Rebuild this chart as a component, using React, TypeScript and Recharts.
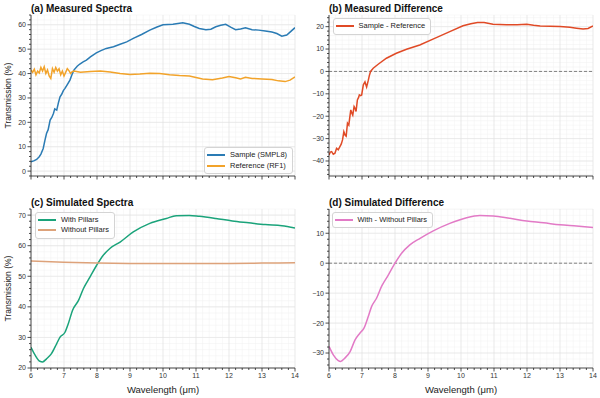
import React from "react"
import { LineChart, Line, XAxis, YAxis, CartesianGrid, ReferenceLine, Legend } from "recharts"

const FONT = '"Liberation Sans", Arial, Helvetica, sans-serif'

// wavelength axis (µm)
const xMajor = [6, 7, 8, 9, 10, 11, 12, 13, 14]

// (a) measured spectra
const sampleW = [6.0, 6.1, 6.17, 6.25, 6.3, 6.37, 6.42, 6.47, 6.52, 6.58, 6.63, 6.68, 6.72, 6.78, 6.83, 6.88, 6.93, 6.98, 7.03, 7.1, 7.18, 7.24, 7.3, 7.4, 7.48, 7.58, 7.68, 7.8, 7.98, 8.12, 8.28, 8.5, 8.7, 8.9, 9.1, 9.35, 9.6, 9.8, 10.0, 10.3, 10.6, 10.8, 10.95, 11.1, 11.3, 11.45, 11.6, 11.75, 11.9, 12.05, 12.2, 12.35, 12.5, 12.7, 12.9, 13.1, 13.3, 13.45, 13.6, 13.75, 13.85, 14.0]
const sampleT = [3.8, 4.3, 4.8, 5.9, 7.0, 9.3, 12.5, 15.4, 17.0, 20.9, 22.0, 23.6, 25.5, 25.0, 28.0, 30.5, 31.5, 33.0, 33.9, 35.5, 37.3, 39.5, 41.4, 43.0, 43.9, 44.8, 45.5, 46.8, 48.5, 49.4, 50.3, 51.0, 52.0, 53.0, 54.4, 56.0, 57.8, 59.0, 60.0, 60.2, 60.8, 60.2, 59.3, 58.5, 58.0, 58.2, 59.2, 59.8, 60.2, 59.0, 58.0, 58.3, 58.8, 58.0, 57.8, 57.4, 57.0, 56.4, 55.3, 55.8, 57.0, 58.8]
const refW = [6.0, 6.05, 6.1, 6.15, 6.2, 6.25, 6.3, 6.35, 6.4, 6.45, 6.5, 6.55, 6.6, 6.65, 6.7, 6.75, 6.8, 6.85, 6.9, 6.95, 7.0, 7.05, 7.1, 7.15, 7.2, 7.25, 7.3, 7.5, 7.8, 8.1, 8.4, 8.7, 9.0, 9.3, 9.6, 9.9, 10.2, 10.5, 10.8, 11.0, 11.2, 11.5, 11.8, 12.0, 12.2, 12.35, 12.5, 12.7, 13.0, 13.3, 13.5, 13.7, 13.85, 14.0]
const refT = [41.5, 40.5, 41.8, 39.5, 41.0, 40.2, 42.5, 41.0, 42.8, 40.0, 41.5, 39.0, 38.0, 42.0, 40.5, 42.5, 41.0, 42.0, 39.5, 41.0, 39.0, 40.5, 42.0, 41.2, 40.0, 40.8, 41.0, 40.5, 40.8, 41.0, 40.6, 40.0, 39.6, 39.8, 40.1, 40.0, 39.5, 39.2, 39.0, 38.4, 37.8, 37.5, 38.2, 38.8, 38.3, 37.8, 38.5, 38.0, 37.8, 37.6, 37.0, 36.7, 37.3, 38.6]

// (b) measured difference
const diffW = [6.0, 6.04, 6.08, 6.13, 6.18, 6.23, 6.28, 6.33, 6.37, 6.41, 6.45, 6.49, 6.52, 6.56, 6.6, 6.62, 6.66, 6.69, 6.72, 6.76, 6.79, 6.82, 6.86, 6.9, 6.92, 6.96, 6.99, 7.04, 7.09, 7.14, 7.19, 7.22, 7.26, 7.34, 7.49, 7.74, 8.04, 8.35, 8.75, 9.15, 9.66, 10.06, 10.3, 10.5, 10.7, 10.97, 11.38, 11.7, 11.99, 12.2, 12.4, 12.7, 13.0, 13.3, 13.5, 13.7, 13.85, 14.0]
const diffT = [-37.3, -36.0, -35.8, -37.0, -36.5, -34.3, -35.0, -33.6, -32.5, -30.6, -26.9, -28.5, -28.9, -23.1, -24.0, -21.6, -17.2, -18.5, -19.5, -15.7, -16.5, -17.9, -12.7, -11.5, -10.5, -10.8, -10.5, -6.0, -4.7, -7.0, -4.0, -2.0, 0, 1.4, 3.2, 5.9, 8.1, 9.9, 11.8, 14.4, 17.8, 20.4, 21.3, 21.8, 21.8, 21.1, 20.8, 20.9, 21.1, 20.6, 20.3, 20.2, 20.1, 19.7, 19.3, 18.9, 19.2, 20.3]

// (c) simulated spectra
const withW = [6.0, 6.13, 6.27, 6.35, 6.47, 6.62, 6.78, 6.88, 7.03, 7.13, 7.26, 7.44, 7.59, 7.79, 7.99, 8.19, 8.39, 8.7, 9.1, 9.6, 10.1, 10.4, 10.8, 11.1, 11.6, 12.1, 12.6, 13.1, 13.6, 14.0]
const withT = [26.8, 24.1, 22.2, 22.0, 23.0, 24.7, 28.0, 30.1, 31.7, 34.5, 38.9, 42.1, 46.0, 49.8, 53.6, 56.9, 59.1, 61.2, 64.5, 67.3, 68.9, 69.8, 69.9, 69.6, 68.9, 68.1, 67.5, 66.9, 66.5, 65.8]
const withoutW = [6, 7, 8, 9, 10, 11, 12, 13, 14]
const withoutT = [55.0, 54.6, 54.3, 54.2, 54.2, 54.2, 54.2, 54.3, 54.4]

// (d) simulated difference
const simDiffW = [6.0, 6.13, 6.28, 6.35, 6.48, 6.64, 6.79, 6.94, 7.06, 7.19, 7.29, 7.44, 7.6, 7.8, 8.0, 8.2, 8.45, 8.76, 9.16, 9.66, 10.17, 10.57, 10.98, 11.48, 11.99, 12.5, 13.0, 13.5, 14.0]
const simDiffT = [-27.8, -30.6, -32.5, -32.8, -31.7, -29.5, -25.6, -23.3, -21.7, -17.8, -14.5, -11.7, -7.6, -3.9, 0, 3.3, 6.1, 8.3, 10.8, 13.3, 15.2, 15.9, 15.8, 15.0, 14.1, 13.5, 12.8, 12.4, 11.9]

const pairs = (w: number[], t: number[]) => w.map((x, i) => ({ w: x, t: t[i] }))

const steps = (a: number, b: number, s: number) => {
  const out: number[] = []
  for (let i = 0; a + i * s <= b + 1e-9; i++) out.push(Math.round((a + i * s) * 10) / 10)
  return out
}

const xMinor = steps(6, 14, 0.2)
const fmt = (v: number) => (v < 0 ? "\u2212" + Math.abs(v) : String(v))

const XTick = ({ x, y, payload, showLabel }: any) => {
  const v = payload.value
  const major = xMajor.includes(v)
  return (
    <g>
      <line x1={x} x2={x} y1={y} y2={y + (major ? 3.5 : 2)} stroke="#222" strokeWidth={0.8} />
      {major && showLabel && (
        <text x={x} y={y + 5} dy="0.71em" textAnchor="middle" fontSize={7} fill="#333">
          {v}
        </text>
      )}
    </g>
  )
}

const YTick = ({ x, y, payload, majors }: any) => {
  const v = payload.value
  const major = majors.includes(v)
  return (
    <g>
      <line x1={x} x2={x - (major ? 3.5 : 2)} y1={y} y2={y} stroke="#222" strokeWidth={0.8} />
      {major && (
        <text x={x - 5} y={y} dy="0.35em" textAnchor="end" fontSize={7} fill="#333">
          {fmt(v)}
        </text>
      )}
    </g>
  )
}

const LegendBox = ({ payload, order }: any) => {
  const items = [...(payload || [])].sort((a: any, b: any) => order.indexOf(a.value) - order.indexOf(b.value))
  return (
    <div
      style={{
        border: "1px solid #d4d4d4",
        borderRadius: 3,
        background: "rgba(255,255,255,0.85)",
        padding: "2px 5px 2px 2px",
        fontSize: 7.5,
        lineHeight: "10.5px",
        color: "#222",
        whiteSpace: "nowrap",
      }}
    >
      {items.map((p: any) => (
        <div key={p.value} style={{ display: "flex", alignItems: "center" }}>
          <span style={{ display: "inline-block", width: 18, height: 2, background: p.color, marginRight: 5 }} />
          <span>{p.value}</span>
        </div>
      ))}
    </div>
  )
}

interface Series {
  name: string
  w: number[]
  t: number[]
  color: string
  kind: "linear" | "monotone"
}

interface PanelProps {
  left: number
  top: number
  title: string
  plotTop: number
  rightPad: number
  yWidth: number
  xHeight: number
  yDomain: [number, number]
  yMajor: number[]
  yMinor: number[]
  xLabels: boolean
  yLabel: boolean
  zero: boolean
  legend: { left: number; top: number }
  series: Series[]
}

function Panel(p: PanelProps) {
  const order = p.series.map((s) => s.name)
  return (
    <div style={{ position: "absolute", left: p.left, top: p.top, width: 300, height: 199 }}>
      <div
        style={{
          position: "absolute",
          left: p.yWidth,
          top: p.plotTop - 11,
          fontSize: 10,
          lineHeight: "10px",
          fontWeight: "bold",
          color: "#111",
          zIndex: 2,
          whiteSpace: "nowrap",
        }}
      >
        {p.title}
      </div>
      <LineChart width={300} height={199} margin={{ top: p.plotTop, right: p.rightPad, bottom: 0, left: 0 }}>
        <CartesianGrid stroke="#f1f1f1" strokeWidth={0.5} />
        <CartesianGrid stroke="#e0e0e0" strokeWidth={0.6} verticalValues={xMajor} horizontalValues={p.yMajor} />
        <XAxis
          type="number"
          dataKey="w"
          domain={[6, 14]}
          ticks={xMinor}
          interval={0}
          allowDataOverflow
          height={p.xHeight}
          tickLine={false}
          tickSize={0}
          tickMargin={0}
          axisLine={{ stroke: "#222", strokeWidth: 0.8 }}
          tick={(props: any) => <XTick {...props} showLabel={p.xLabels} />}
          label={
            p.xLabels
              ? { value: "Wavelength (μm)", position: "insideBottom", offset: 5.5, fontSize: 9.5, fill: "#222" }
              : undefined
          }
        />
        <YAxis
          type="number"
          domain={p.yDomain}
          ticks={p.yMinor}
          interval={0}
          allowDataOverflow
          width={p.yWidth}
          tickLine={false}
          tickSize={0}
          tickMargin={0}
          axisLine={{ stroke: "#222", strokeWidth: 0.8 }}
          tick={(props: any) => <YTick {...props} majors={p.yMajor} />}
          label={
            p.yLabel
              ? { value: "Transmission (%)", angle: -90, position: "center", dx: -8, fontSize: 8.5, fill: "#222" }
              : undefined
          }
        />
        {p.zero && <ReferenceLine y={0} stroke="#666" strokeDasharray="3 2" strokeWidth={0.8} />}
        {p.series.map((s) => (
          <Line
            key={s.name}
            name={s.name}
            data={pairs(s.w, s.t)}
            dataKey="t"
            type={s.kind}
            stroke={s.color}
            strokeWidth={1.5}
            dot={false}
            activeDot={false}
            isAnimationActive={false}
          />
        ))}
        <Legend
          layout="vertical"
          align="center"
          verticalAlign="middle"
          wrapperStyle={{ left: p.legend.left, top: p.legend.top, width: "auto", height: "auto" }}
          content={(props: any) => <LegendBox {...props} order={order} />}
        />
      </LineChart>
    </div>
  )
}

export default function App() {
  return (
    <div
      style={{
        position: "absolute",
        left: 0,
        top: 0,
        width: 600,
        height: 398,
        background: "#fff",
        fontFamily: FONT,
        overflow: "hidden",
      }}
    >
      <Panel
        left={0}
        top={0}
        title="(a) Measured Spectra"
        plotTop={15}
        rightPad={5}
        yWidth={31}
        xHeight={23}
        yDomain={[-2, 64]}
        yMajor={[0, 10, 20, 30, 40, 50, 60]}
        yMinor={steps(-2, 64, 2)}
        xLabels={false}
        yLabel
        zero={false}
        legend={{ left: 204, top: 147 }}
        series={[
          { name: "Sample (SMPL8)", w: sampleW, t: sampleT, color: "#2a7bb4", kind: "linear" },
          { name: "Reference (RF1)", w: refW, t: refT, color: "#f2a32a", kind: "linear" },
        ]}
      />
      <Panel
        left={300}
        top={0}
        title="(b) Measured Difference"
        plotTop={15}
        rightPad={7}
        yWidth={29}
        xHeight={23}
        yDomain={[-46.7, 25.2]}
        yMajor={[-40, -30, -20, -10, 0, 10, 20]}
        yMinor={steps(-46, 24, 2)}
        xLabels={false}
        yLabel={false}
        zero
        legend={{ left: 32.5, top: 18 }}
        series={[{ name: "Sample - Reference", w: diffW, t: diffT, color: "#e04a26", kind: "linear" }]}
      />
      <Panel
        left={0}
        top={199}
        title="(c) Simulated Spectra"
        plotTop={10}
        rightPad={5}
        yWidth={31}
        xHeight={30}
        yDomain={[20, 72]}
        yMajor={[20, 30, 40, 50, 60, 70]}
        yMinor={steps(20, 72, 2)}
        xLabels
        yLabel
        zero={false}
        legend={{ left: 35, top: 12.5 }}
        series={[
          { name: "With Pillars", w: withW, t: withT, color: "#1aa37a", kind: "monotone" },
          { name: "Without Pillars", w: withoutW, t: withoutT, color: "#dda27a", kind: "monotone" },
        ]}
      />
      <Panel
        left={300}
        top={199}
        title="(d) Simulated Difference"
        plotTop={10}
        rightPad={7}
        yWidth={29}
        xHeight={30}
        yDomain={[-35, 18.1]}
        yMajor={[-30, -20, -10, 0, 10]}
        yMinor={steps(-34, 18, 2)}
        xLabels
        yLabel={false}
        zero
        legend={{ left: 31.5, top: 12.5 }}
        series={[{ name: "With - Without Pillars", w: simDiffW, t: simDiffT, color: "#e27ac6", kind: "monotone" }]}
      />
    </div>
  )
}
